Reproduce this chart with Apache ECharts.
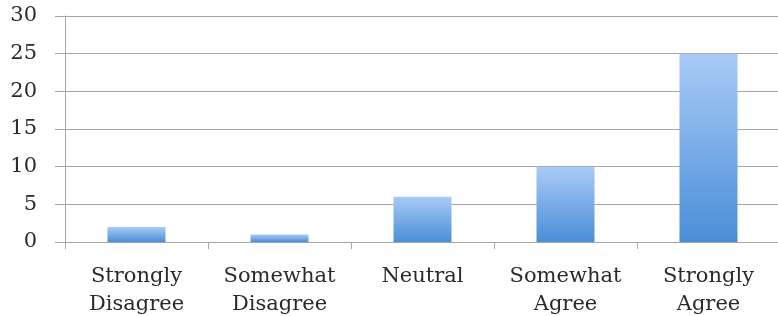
<!DOCTYPE html>
<html>
<head>
<meta charset="utf-8">
<script src="https://cdn.jsdelivr.net/npm/echarts@6/dist/echarts.min.js"></script>
<style>
  html, body { margin: 0; padding: 0; background: #fff; }
  #chart { width: 778px; height: 316px; }
</style>
</head>
<body>
<div id="chart"></div>
<script>
// 数据
const categories = ['Strongly\nDisagree', 'Somewhat\nDisagree', 'Neutral', 'Somewhat\nAgree', 'Strongly\nAgree']
const counts = [2, 1, 6, 10, 25]
const yTicks = { min: 0, max: 30, interval: 5 }

let myChart = echarts.init(document.getElementById('chart'))
let option = {
  animation: false,
  grid: {
    left: 65,
    right: -2,
    top: 16,
    bottom: 74,
    outerBoundsMode: 'none'
  },
  xAxis: {
    type: 'category',
    data: categories,
    axisLine: {
      lineStyle: { color: '#a6a6a6', width: 1 }
    },
    axisTick: {
      show: true,
      alignWithLabel: false,
      length: 7,
      lineStyle: { color: '#a6a6a6' }
    },
    axisLabel: {
      fontFamily: 'DejaVu Serif',
      fontSize: 21,
      color: '#2a2a2a',
      interval: 0,
      margin: 21,
      lineHeight: 28
    }
  },
  yAxis: {
    type: 'value',
    min: yTicks.min,
    max: yTicks.max,
    interval: yTicks.interval,
    axisLine: {
      show: true,
      lineStyle: { color: '#a6a6a6' }
    },
    axisTick: {
      show: true,
      length: 10,
      lineStyle: { color: '#a6a6a6' }
    },
    splitLine: {
      show: true,
      lineStyle: { color: '#a6a6a6' }
    },
    axisLabel: {
      fontFamily: 'DejaVu Serif',
      fontSize: 21,
      color: '#2a2a2a',
      margin: 28
    }
  },
  series: [{
    type: 'bar',
    data: counts,
    barWidth: 58,
    itemStyle: {
      color: new echarts.graphic.LinearGradient(0, 0, 0, 1, [
        { offset: 0, color: '#a9cbf6' },
        { offset: 1, color: '#4a8ed8' }
      ])
    }
  }]
}
myChart.setOption(option)
</script>
</body>
</html>
